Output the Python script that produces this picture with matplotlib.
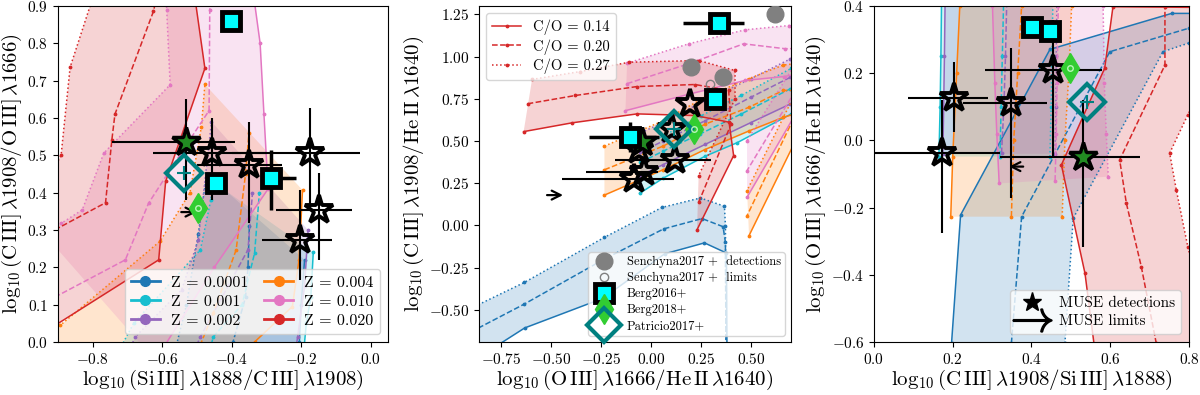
import matplotlib
matplotlib.use("Agg")
import matplotlib.pyplot as plt
from matplotlib.lines import Line2D
import numpy as np

plt.rcParams["font.family"] = "serif"
plt.rcParams["font.serif"] = ["cmr10", "DejaVu Serif"]
plt.rcParams["mathtext.fontset"] = "cm"
plt.rcParams["axes.formatter.use_mathtext"] = True

# ── model grids: per metallicity, [C/O=0.14 (solid), 0.20 (dashed), 0.27 (dotted)] ──
Z_LABELS = ["Z = 0.0001", "Z = 0.001", "Z = 0.002", "Z = 0.004", "Z = 0.010", "Z = 0.020"]
Z_COLORS = ["#1f77b4", "#17becf", "#9467bd", "#ff7f0e", "#e377c2", "#d62728"]
CO_LABELS = ["C/O = 0.14", "C/O = 0.20", "C/O = 0.27"]
CO_STYLES = ["-", "--", ":"]

# panel 1: SiIII/CIII vs CIII/OIII
P1_Z00001 = [[(-0.21, -0.05), (-0.205, 0.0), (-0.2, 0.1), (-0.19, 0.22)],
             [(-0.41, -0.05), (-0.396, 0.0), (-0.36, 0.12), (-0.353, 0.2), (-0.349, 0.31)],
             [(-0.57, -0.05), (-0.53, 0.1), (-0.496, 0.29), (-0.472, 0.45)]]
P1_Z0001 = [[(-0.195, -0.05), (-0.185, 0.05), (-0.172, 0.12), (-0.165, 0.24)],
            [(-0.47, -0.05), (-0.453, 0.014), (-0.37, 0.1), (-0.334, 0.238), (-0.32, 0.40)],
            [(-0.74, -0.05), (-0.682, 0.05), (-0.49, 0.247), (-0.46, 0.38), (-0.455, 0.43)]]
P1_Z0002 = [[(-0.22, -0.05), (-0.21, 0.014), (-0.19, 0.15), (-0.18, 0.30)],
            [(-0.52, -0.05), (-0.49, 0.014), (-0.353, 0.247), (-0.34, 0.40)],
            [(-0.71, -0.05), (-0.677, 0.014), (-0.544, 0.14), (-0.496, 0.273), (-0.458, 0.59)]]
P1_Z0004 = [[(-0.36, -0.05), (-0.334, 0.0), (-0.225, 0.095), (-0.206, 0.22), (-0.196, 0.407)],
            [(-0.5, -0.03), (-0.453, 0.077), (-0.387, 0.247), (-0.36, 0.45), (-0.35, 0.56)],
            [(-0.95, 0.0), (-0.893, 0.045), (-0.606, 0.27), (-0.52, 0.40), (-0.487, 0.577), (-0.477, 0.69)]]
P1_Z0010 = [[(-0.62, -0.05), (-0.45, 0.2), (-0.295, 0.41), (-0.307, 0.61), (-0.318, 0.80), (-0.34, 0.95)],
            [(-0.95, 0.10), (-0.706, 0.22), (-0.639, 0.372), (-0.55, 0.50), (-0.465, 0.62), (-0.463, 0.89), (-0.46, 0.95)],
            [(-0.95, 0.30), (-0.89, 0.318), (-0.83, 0.354), (-0.768, 0.506), (-0.577, 0.689), (-0.587, 0.89), (-0.59, 0.95)]]
P1_Z0020 = [[(-0.95, 0.02), (-0.61, 0.22), (-0.59, 0.43), (-0.477, 0.733), (-0.51, 0.95)],
            [(-0.95, 0.28), (-0.763, 0.373), (-0.745, 0.54), (-0.736, 0.61), (-0.625, 0.886), (-0.61, 0.95)],
            [(-0.95, 0.40), (-0.891, 0.50), (-0.865, 0.736), (-0.79, 0.95)]]

# panel 2: OIII/HeII vs CIII/HeII
P2_Z00001 = [[(-0.9, -0.81), (-0.632, -0.607), (-0.242, -0.432), (0.068, -0.168), (0.267, -0.103), (0.377, -0.163), (0.38, -0.8)],
             [(-0.9, -0.63), (-0.633, -0.465), (-0.232, -0.198), (0.063, -0.02), (0.255, 0.041), (0.36, -0.007), (0.372, -0.1), (0.375, -0.8)],
             [(-0.9, -0.49), (-0.633, -0.337), (-0.233, -0.07), (0.055, 0.107), (0.247, 0.163), (0.367, 0.114), (0.372, -0.001), (0.375, -0.8)]]
P2_Z0001 = [[(-0.057, 0.19), (0.06, 0.28), (0.27, 0.41), (0.43, 0.49), (0.70, 0.66), (0.9, 0.76)],
            [(-0.053, 0.374), (0.06, 0.44), (0.247, 0.543), (0.45, 0.66), (0.697, 0.81), (0.9, 0.92)],
            [(-0.05, 0.47), (0.06, 0.53), (0.25, 0.65), (0.45, 0.77), (0.70, 0.93), (0.9, 1.03)]]
P2_Z0002 = [[(-0.053, 0.296), (0.06, 0.36), (0.27, 0.48), (0.5, 0.61), (0.697, 0.72), (0.9, 0.82)],
            [(-0.053, 0.434), (0.06, 0.5), (0.27, 0.62), (0.5, 0.76), (0.697, 0.878), (0.9, 0.98)],
            [(-0.05, 0.55), (0.06, 0.61), (0.27, 0.74), (0.5, 0.87), (0.697, 0.987), (0.9, 1.08)]]
P2_Z0004 = [[(-0.233, 0.18), (0.06, 0.33), (0.27, 0.45), (0.49, 0.56), (0.66, 0.64), (0.8, 0.69), (0.49, -0.06)],
            [(-0.233, 0.33), (0.06, 0.47), (0.27, 0.60), (0.49, 0.70), (0.66, 0.80), (0.78, 0.80), (0.48, 0.058)],
            [(-0.233, 0.47), (0.06, 0.62), (0.27, 0.76), (0.49, 0.87), (0.66, 0.95), (0.8, 0.97), (0.48, 0.207)]]
P2_Z0010 = [[(-0.128, 0.68), (0.197, 0.78), (0.47, 0.859), (0.663, 0.882), (0.85, 0.92), (0.48, 0.167)],
            [(-0.12, 0.84), (0.188, 0.958), (0.463, 1.076), (0.67, 1.047), (0.85, 1.05), (0.48, 0.325)],
            [(-0.12, 0.961), (0.188, 1.076), (0.47, 1.159), (0.688, 1.184), (0.85, 1.2), (0.48, 0.503)]]
P2_Z0020 = [[(-0.637, 0.556), (-0.395, 0.608), (-0.07, 0.661), (0.22, 0.651), (0.39, 0.612), (0.413, 0.414), (0.23, -0.025)],
            [(-0.617, 0.721), (-0.378, 0.77), (-0.07, 0.823), (0.22, 0.835), (0.388, 0.80), (0.40, 0.60), (0.238, 0.137)],
            [(-0.595, 0.865), (-0.353, 0.912), (-0.11, 0.967), (0.238, 0.977), (0.42, 0.918), (0.42, 0.75), (0.238, 0.296)]]

# panel 3: CIII/SiIII vs OIII/HeII
P3_Z00001 = [[(0.19, -0.7), (0.197, -0.604), (0.22, -0.222), (0.447, 0.271), (0.756, 0.378), (0.9, 0.378)],
             [(0.345, -0.7), (0.349, -0.604), (0.375, -0.227), (0.599, 0.264), (0.80, 0.334), (0.9, 0.36)],
             [(0.48, -0.7), (0.485, -0.604), (0.506, -0.232), (0.734, 0.264), (0.80, 0.29), (0.9, 0.31)]]
P3_Z0001 = [[(0.165, -0.048), (0.168, 0.1), (0.17, 0.25), (0.172, 0.45)],
            [(0.32, -0.048), (0.323, 0.1), (0.326, 0.25), (0.33, 0.45)],
            [(0.447, -0.048), (0.45, 0.1), (0.452, 0.25), (0.455, 0.45)]]
P3_Z0002 = [[(0.175, -0.04), (0.177, 0.1), (0.179, 0.25), (0.181, 0.45)],
            [(0.324, -0.038), (0.33, 0.1), (0.334, 0.25), (0.338, 0.45)],
            [(0.46, -0.04), (0.462, 0.1), (0.463, 0.25), (0.465, 0.45)]]
P3_Z0004 = [[(0.195, -0.227), (0.2, -0.05), (0.21, 0.2), (0.218, 0.40), (0.22, 0.45)],
            [(0.349, -0.227), (0.355, 0.0), (0.365, 0.2), (0.375, 0.4), (0.377, 0.45)],
            [(0.478, -0.227), (0.485, 0.0), (0.495, 0.2), (0.502, 0.4), (0.504, 0.45)]]
P3_Z0010 = [[(0.318, -0.128), (0.312, 0.02), (0.307, 0.17), (0.301, 0.40), (0.30, 0.45)],
            [(0.46, -0.12), (0.463, 0.02), (0.465, 0.17), (0.468, 0.40), (0.469, 0.45)],
            [(0.595, -0.108), (0.59, 0.02), (0.585, 0.17), (0.582, 0.40), (0.58, 0.45)]]
P3_Z0020 = [[(0.58, -0.8), (0.536, -0.396), (0.476, -0.073), (0.586, 0.215), (0.607, 0.398), (0.9, 0.395)],
            [(0.73, -0.7), (0.717, -0.604), (0.679, -0.376), (0.641, -0.187), (0.624, -0.058), (0.739, 0.224), (0.739, 0.398), (0.75, 0.45)],
            [(0.9, -0.8), (0.797, -0.316), (0.768, -0.148), (0.751, -0.038), (0.797, 0.076), (0.85, 0.2)]]

# ── observations ─────────────────────────────────────────────────────────────
# panel 1
P1_MUSE_X = [-0.456, -0.349, -0.174, -0.149, -0.203]
P1_MUSE_Y = [0.506, 0.475, 0.506, 0.354, 0.273]
P1_MUSE_XLO = [0.17, 0.15, 0.226, 0.122, 0.111]
P1_MUSE_XHI = [0.156, 0.095, 0.144, 0.095, 0.092]
P1_MUSE_YLO = [0.126, 0.155, 0.144, 0.134, 0.107]
P1_MUSE_YHI = [0.094, 0.115, 0.121, 0.10, 0.134]
P1_GREEN = (-0.53, 0.537, 0.213, 0.141, 0.156, 0.114)  # x, y, xlo, xhi, ylo, yhi
P1_BERG16_X = [-0.403, -0.446, -0.287]
P1_BERG16_Y = [0.861, 0.426, 0.439]
P1_BERG16_XLO = [0.0, 0.0, 0.024]
P1_BERG16_XHI = [0.0, 0.0, 0.072]
P1_BERG16_YLO = [0.0, 0.0, 0.085]
P1_BERG16_YHI = [0.0, 0.0, 0.076]
P1_BERG18 = (-0.496, 0.358)
P1_PATRICIO = (-0.536, 0.452)
P1_LIM = (-0.545, 0.348, 0.045)  # tail x, y, dx

# panel 2
P2_MUSE_X = [0.197, 0.105, 0.12, -0.037, -0.087, -0.06]
P2_MUSE_Y = [0.72, 0.57, 0.385, 0.315, 0.275, 0.45]
P2_MUSE_XLO = [0.0, 0.0, 0.30, 0.29, 0.36, 0.0]
P2_MUSE_XHI = [0.0, 0.0, 0.18, 0.07, 0.2, 0.0]
P2_GREEN = (-0.045, 0.493)
P2_BERG16_X = [0.338, 0.32, -0.104]
P2_BERG16_Y = [1.198, 0.75, 0.523]
P2_BERG16_XLO = [0.178, 0.03, 0.206]
P2_BERG16_XHI = [0.125, 0.03, 0.144]
P2_BERG16_YERR = [0.0, 0.03, 0.09]
P2_BERG18 = (0.213, 0.572)
P2_PATRICIO = (0.113, 0.572)
P2_SEN_DET_X = [0.622, 0.2015, 0.36]
P2_SEN_DET_Y = [1.25, 0.938, 0.878]
P2_SEN_LIM = (0.293, 0.839)
P2_LIM = (-0.52, 0.18, 0.08)

# panel 3
P3_MUSE_X = [0.204, 0.347, 0.455, 0.172]
P3_MUSE_Y = [0.125, 0.11, 0.21, -0.038]
P3_MUSE_XLO = [0.118, 0.121, 0.173, 0.2]
P3_MUSE_XHI = [0.086, 0.093, 0.123, 0.148]
P3_MUSE_YLO = [0.1, 0.28, 0.259, 0.238]
P3_MUSE_YHI = [0.109, 0.165, 0.148, 0.158]
P3_GREEN = (0.531, -0.048, 0.211, 0.144, 0.268, 0.168)
P3_BERG16_X = [0.402, 0.447]
P3_BERG16_Y = [0.338, 0.327]
P3_BERG16_YERR = [0.0, 0.03]
P3_BERG18 = (0.499, 0.214)
P3_PATRICIO = (0.54, 0.115)
P3_LIM = (0.379, -0.078, -0.036)

fig = plt.figure(figsize=(12, 3.95), dpi=100)
ax1 = fig.add_axes([0.0483, 0.1342, 0.275, 0.8506])
ax2 = fig.add_axes([0.3992, 0.1342, 0.26, 0.8506])
ax3 = fig.add_axes([0.7283, 0.1342, 0.2625, 0.8506])


def draw_grid(ax, grids):
    for grid, col in zip(grids, Z_COLORS):
        solid = np.array(grid[0])
        dotted = np.array(grid[2])
        poly = np.vstack([solid, dotted[::-1]])
        ax.fill(poly[:, 0], poly[:, 1], color=col, alpha=0.2, lw=0, zorder=1)
        for pts, ls in zip(grid, CO_STYLES):
            pts = np.array(pts)
            ax.plot(pts[:, 0], pts[:, 1], color=col, ls=ls, lw=1.1, marker=".", ms=3.5, zorder=2)


def draw_muse(ax, x, y, xlo, xhi, ylo, yhi):
    ax.errorbar(x, y, xerr=[xlo, xhi], yerr=[ylo, yhi], fmt="none", ecolor="k", elinewidth=1.5, zorder=6)
    ax.plot(x, y, ls="none", marker="*", ms=21, mfc="none", mec="k", mew=2.8, zorder=7)


def draw_green(ax, g):
    if len(g) > 2:
        ax.errorbar([g[0]], [g[1]], xerr=[[g[2]], [g[3]]], yerr=[[g[4]], [g[5]]], fmt="none",
                    ecolor="k", elinewidth=1.5, zorder=6)
    ax.plot(g[0], g[1], marker="*", ms=21, mfc="forestgreen", mec="k", mew=2.5, zorder=8)


def draw_berg16(ax, x, y, xerr=None, yerr=None):
    ax.errorbar(x, y, xerr=xerr, yerr=yerr, fmt="none", ecolor="k", elinewidth=2.5, zorder=6)
    ax.plot(x, y, ls="none", marker="s", ms=13, mfc="cyan", mec="k", mew=3.5, zorder=8)


def draw_berg18(ax, p):
    ax.plot(p[0], p[1], marker="d", ms=15, color="limegreen", mec="limegreen", zorder=8)
    ax.plot(p[0], p[1], marker="o", ms=4, mfc="none", mec="#b8f5b8", mew=1, zorder=9)


def draw_patricio(ax, p):
    ax.plot(p[0], p[1], marker="D", ms=18, mfc="none", mec="teal", mew=3, zorder=8)
    ax.plot(p[0], p[1], marker="+", ms=10, color="teal", mew=1.5, zorder=8)


def draw_limit(ax, lim):
    ax.annotate("", xy=(lim[0] + lim[2], lim[1]), xytext=(lim[0], lim[1]),
                arrowprops=dict(arrowstyle="->", color="k", lw=1.6, mutation_scale=16,
                                shrinkA=0, shrinkB=0), zorder=7)


# ── panel 1 ──
draw_grid(ax1, [P1_Z00001, P1_Z0001, P1_Z0002, P1_Z0004, P1_Z0010, P1_Z0020])
draw_muse(ax1, P1_MUSE_X, P1_MUSE_Y, P1_MUSE_XLO, P1_MUSE_XHI, P1_MUSE_YLO, P1_MUSE_YHI)
draw_green(ax1, P1_GREEN)
draw_berg16(ax1, P1_BERG16_X, P1_BERG16_Y, xerr=[P1_BERG16_XLO, P1_BERG16_XHI],
            yerr=[P1_BERG16_YLO, P1_BERG16_YHI])
draw_berg18(ax1, P1_BERG18)
draw_patricio(ax1, P1_PATRICIO)
draw_limit(ax1, P1_LIM)
ax1.set_xlim(-0.9, 0.05)
ax1.set_ylim(0, 0.9)
ax1.set_xticks([-0.8, -0.6, -0.4, -0.2, 0.0])
ax1.set_xlabel(r"$\log_{10}(\mathrm{Si\,III]\,}\lambda1888/\mathrm{C\,III]\,}\lambda1908)$", fontsize=15, labelpad=1)
ax1.set_ylabel(r"$\log_{10}(\mathrm{C\,III]\,}\lambda1908/\mathrm{O\,III]\,}\lambda1666)$", fontsize=15, labelpad=2)
z_handles = [Line2D([], [], color=c, marker="o", ms=7, lw=2) for c in Z_COLORS]
ax1.legend(z_handles, Z_LABELS, loc="lower right", ncol=2, fontsize=11.5, handlelength=1.8,
           columnspacing=1.0, borderpad=0.4, labelspacing=0.3, handletextpad=0.7)

# ── panel 2 ──
draw_grid(ax2, [P2_Z00001, P2_Z0001, P2_Z0002, P2_Z0004, P2_Z0010, P2_Z0020])
ax2.errorbar(P2_MUSE_X, P2_MUSE_Y, xerr=[P2_MUSE_XLO, P2_MUSE_XHI], fmt="none", ecolor="k",
             elinewidth=1.5, zorder=6)
ax2.plot(P2_MUSE_X, P2_MUSE_Y, ls="none", marker="*", ms=21, mfc="none", mec="k", mew=2.8, zorder=7)
draw_green(ax2, P2_GREEN)
draw_berg16(ax2, P2_BERG16_X, P2_BERG16_Y, xerr=[P2_BERG16_XLO, P2_BERG16_XHI], yerr=P2_BERG16_YERR)
draw_berg18(ax2, P2_BERG18)
draw_patricio(ax2, P2_PATRICIO)
ax2.plot(P2_SEN_DET_X, P2_SEN_DET_Y, ls="none", marker="o", ms=12, color="grey", zorder=5)
ax2.plot(P2_SEN_LIM[0], P2_SEN_LIM[1], marker="o", ms=6, mfc="none", mec="grey", zorder=5)
draw_limit(ax2, P2_LIM)
ax2.set_xlim(-0.86, 0.70)
ax2.set_ylim(-0.69, 1.30)
ax2.set_xticks([-0.75, -0.5, -0.25, 0.0, 0.25, 0.5])
ax2.set_yticks([-0.5, -0.25, 0.0, 0.25, 0.5, 0.75, 1.0, 1.25])
ax2.xaxis.set_major_formatter(matplotlib.ticker.FormatStrFormatter("$%.2f$"))
ax2.yaxis.set_major_formatter(matplotlib.ticker.FormatStrFormatter("$%.2f$"))
ax2.set_xlabel(r"$\log_{10}(\mathrm{O\,III]\,}\lambda1666/\mathrm{He\,II\,}\lambda1640)$", fontsize=15, labelpad=1)
ax2.set_ylabel(r"$\log_{10}(\mathrm{C\,III]\,}\lambda1908/\mathrm{He\,II\,}\lambda1640)$", fontsize=15, labelpad=2)
co_handles = [Line2D([], [], color=Z_COLORS[-1], ls=ls, lw=1.1, marker=".", ms=3.5) for ls in CO_STYLES]
leg_co = ax2.legend(co_handles, CO_LABELS, loc="upper left", fontsize=10.5, handlelength=2.0,
                    borderpad=0.4, labelspacing=0.3)
ax2.add_artist(leg_co)
obs_handles = [
    Line2D([], [], ls="none", marker="o", ms=12, color="grey"),
    Line2D([], [], ls="none", marker="o", ms=6, mfc="none", mec="grey"),
    Line2D([], [], ls="none", marker="s", ms=13, mfc="cyan", mec="k", mew=3.5),
    Line2D([], [], ls="none", marker="d", ms=15, color="limegreen"),
    Line2D([], [], ls="none", marker="D", ms=17, mfc="none", mec="teal", mew=3),
]
obs_labels = ["Senchyna2017 +  detections", "Senchyna2017 +  limits", "Berg2016+", "Berg2018+", "Patricio2017+"]
ax2.legend(obs_handles, obs_labels, loc="lower right", fontsize=9, borderpad=0.3, labelspacing=0.3,
           handletextpad=0.8)

# ── panel 3 ──
draw_grid(ax3, [P3_Z00001, P3_Z0001, P3_Z0002, P3_Z0004, P3_Z0010, P3_Z0020])
draw_muse(ax3, P3_MUSE_X, P3_MUSE_Y, P3_MUSE_XLO, P3_MUSE_XHI, P3_MUSE_YLO, P3_MUSE_YHI)
draw_green(ax3, P3_GREEN)
draw_berg16(ax3, P3_BERG16_X, P3_BERG16_Y, yerr=P3_BERG16_YERR)
draw_berg18(ax3, P3_BERG18)
draw_patricio(ax3, P3_PATRICIO)
draw_limit(ax3, P3_LIM)
ax3.set_xlim(0, 0.8)
ax3.set_ylim(-0.6, 0.4)
ax3.set_xticks([0.0, 0.2, 0.4, 0.6, 0.8])
ax3.set_yticks([-0.6, -0.4, -0.2, 0.0, 0.2, 0.4])
ax3.set_xlabel(r"$\log_{10}(\mathrm{C\,III]\,}\lambda1908/\mathrm{Si\,III]\,}\lambda1888)$", fontsize=15, labelpad=1)
ax3.set_ylabel(r"$\log_{10}(\mathrm{O\,III]\,}\lambda1666/\mathrm{He\,II\,}\lambda1640)$", fontsize=15, labelpad=2)
muse_handles = [Line2D([], [], ls="none", marker="*", ms=14, color="k"),
                Line2D([], [], ls="none", marker=r"$\rightarrow$", ms=28, color="k")]
ax3.legend(muse_handles, ["MUSE detections", "MUSE limits"], loc="lower right", fontsize=11,
           borderpad=0.4, labelspacing=0.3)

for ax in (ax1, ax2, ax3):
    ax.tick_params(labelsize=11)

fig.savefig("out.png", dpi=100)
